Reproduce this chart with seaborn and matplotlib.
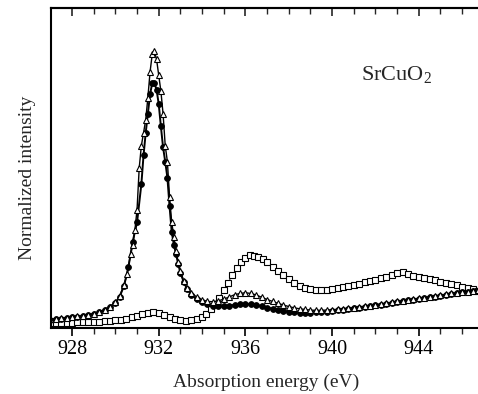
import numpy as np
import pandas as pd
import seaborn as sns
import matplotlib.pyplot as plt
from matplotlib.ticker import MultipleLocator

# values (normalized intensity, axis height = 1)
tri_x = [927.0, 927.25, 927.5, 927.75, 928.0, 928.25, 928.5, 928.75, 929.0, 929.25,
         929.5, 929.75, 930.0, 930.2, 930.4, 930.55, 930.7, 930.8, 930.9, 931.0,
         931.1, 931.2, 931.3, 931.4, 931.5, 931.6, 931.7, 931.8, 931.9, 932.0,
         932.1, 932.2, 932.3, 932.4, 932.5, 932.6, 932.7, 932.8, 932.9, 933.0,
         933.15, 933.3, 933.5, 933.75, 934.0, 934.25, 934.5, 934.75, 935.0, 935.25,
         935.5, 935.75, 936.0, 936.25, 936.5, 936.75, 937.0, 937.25, 937.5, 937.75,
         938.0, 938.25, 938.5, 938.75, 939.0, 939.25, 939.5, 939.75, 940.0, 940.25,
         940.5, 940.75, 941.0, 941.25, 941.5, 941.75, 942.0, 942.25, 942.5, 942.75,
         943.0, 943.25, 943.5, 943.75, 944.0, 944.25, 944.5, 944.75, 945.0, 945.25,
         945.5, 945.75, 946.0, 946.25, 946.5, 946.75]
tri_y = [0.028, 0.029, 0.030, 0.032, 0.034, 0.036, 0.038, 0.041, 0.045, 0.050,
         0.057, 0.066, 0.080, 0.100, 0.135, 0.170, 0.230, 0.260, 0.305, 0.370,
         0.500, 0.570, 0.610, 0.650, 0.720, 0.800, 0.855, 0.865, 0.840, 0.790,
         0.740, 0.670, 0.570, 0.520, 0.410, 0.330, 0.285, 0.240, 0.205, 0.178,
         0.148, 0.126, 0.110, 0.097, 0.088, 0.083, 0.082, 0.085, 0.090, 0.097,
         0.104, 0.108, 0.110, 0.108, 0.103, 0.096, 0.089, 0.083, 0.077, 0.072,
         0.067, 0.063, 0.060, 0.058, 0.056, 0.055, 0.055, 0.056, 0.057, 0.058,
         0.060, 0.062, 0.064, 0.066, 0.068, 0.070, 0.073, 0.075, 0.078, 0.080,
         0.083, 0.085, 0.088, 0.090, 0.093, 0.095, 0.098, 0.100, 0.103, 0.105,
         0.108, 0.110, 0.112, 0.114, 0.116, 0.118]

circ_x = [927.0, 927.25, 927.5, 927.75, 928.0, 928.25, 928.5, 928.75, 929.0, 929.25,
          929.5, 929.75, 930.0, 930.2, 930.4, 930.6, 930.8, 931.0, 931.2, 931.3,
          931.4, 931.5, 931.6, 931.7, 931.8, 931.9, 932.0, 932.1, 932.2, 932.3,
          932.4, 932.5, 932.6, 932.7, 932.8, 932.9, 933.0, 933.15, 933.3, 933.5,
          933.75, 934.0, 934.25, 934.5, 934.75, 935.0, 935.25, 935.5, 935.75, 936.0,
          936.25, 936.5, 936.75, 937.0, 937.25, 937.5, 937.75, 938.0, 938.25, 938.5,
          938.75, 939.0, 939.25, 939.5, 939.75, 940.0, 940.25, 940.5, 940.75, 941.0,
          941.25, 941.5, 941.75, 942.0, 942.25, 942.5, 942.75, 943.0, 943.25, 943.5,
          943.75, 944.0, 944.25, 944.5, 944.75, 945.0, 945.25, 945.5, 945.75, 946.0,
          946.25, 946.5, 946.75]
circ_y = [0.026, 0.027, 0.029, 0.031, 0.033, 0.035, 0.037, 0.040, 0.044, 0.049,
          0.056, 0.065, 0.078, 0.098, 0.132, 0.190, 0.270, 0.330, 0.450, 0.540,
          0.610, 0.670, 0.730, 0.765, 0.765, 0.745, 0.700, 0.630, 0.565, 0.520,
          0.470, 0.380, 0.300, 0.260, 0.230, 0.200, 0.172, 0.145, 0.123, 0.104,
          0.090, 0.080, 0.074, 0.070, 0.068, 0.068, 0.070, 0.072, 0.074, 0.075,
          0.074, 0.072, 0.068, 0.064, 0.060, 0.057, 0.054, 0.051, 0.049, 0.048,
          0.048, 0.048, 0.049, 0.050, 0.051, 0.053, 0.055, 0.057, 0.059, 0.061,
          0.063, 0.066, 0.068, 0.071, 0.073, 0.076, 0.078, 0.081, 0.083, 0.086,
          0.088, 0.091, 0.093, 0.096, 0.098, 0.101, 0.103, 0.106, 0.108, 0.111,
          0.113, 0.115, 0.117]

sq_x = [927.0, 927.25, 927.5, 927.75, 928.0, 928.25, 928.5, 928.75, 929.0, 929.25,
        929.5, 929.75, 930.0, 930.25, 930.5, 930.75, 931.0, 931.25, 931.5, 931.75,
        932.0, 932.25, 932.5, 932.75, 933.0, 933.25, 933.5, 933.75, 934.0, 934.2,
        934.4, 934.6, 934.8, 935.0, 935.2, 935.4, 935.6, 935.8, 936.0, 936.2,
        936.4, 936.6, 936.8, 937.0, 937.25, 937.5, 937.75, 938.0, 938.25, 938.5,
        938.75, 939.0, 939.25, 939.5, 939.75, 940.0, 940.25, 940.5, 940.75, 941.0,
        941.25, 941.5, 941.75, 942.0, 942.25, 942.5, 942.75, 943.0, 943.25, 943.5,
        943.75, 944.0, 944.25, 944.5, 944.75, 945.0, 945.25, 945.5, 945.75, 946.0,
        946.25, 946.5, 946.75]
sq_y = [0.016, 0.016, 0.016, 0.017, 0.017, 0.018, 0.018, 0.019, 0.019, 0.020,
        0.021, 0.022, 0.024, 0.026, 0.029, 0.033, 0.038, 0.043, 0.047, 0.049,
        0.047, 0.042, 0.035, 0.029, 0.025, 0.023, 0.024, 0.028, 0.035, 0.045,
        0.058, 0.074, 0.094, 0.118, 0.142, 0.165, 0.188, 0.207, 0.220, 0.227,
        0.226, 0.222, 0.215, 0.205, 0.192, 0.178, 0.165, 0.152, 0.141, 0.132,
        0.126, 0.122, 0.120, 0.119, 0.120, 0.122, 0.124, 0.127, 0.131, 0.135,
        0.139, 0.143, 0.147, 0.151, 0.155, 0.160, 0.166, 0.171, 0.175, 0.170,
        0.164, 0.160, 0.157, 0.153, 0.149, 0.145, 0.141, 0.137, 0.133, 0.129,
        0.125, 0.121, 0.117]

sns.set_style('ticks')
plt.rcParams['font.family'] = ['Liberation Serif', 'DejaVu Serif']
plt.rcParams['mathtext.fontset'] = 'custom'
plt.rcParams['mathtext.rm'] = 'Liberation Serif'

fig = plt.figure(figsize=(4.78, 3.94), dpi=100)
ax = fig.add_axes([51 / 478, 66 / 394, 430 / 478, 320 / 394])

# open squares (thin line)
sns.lineplot(x=sq_x, y=sq_y, ax=ax, sort=False, color='black', linewidth=0.6,
             marker='s', markersize=4.5, markerfacecolor='white',
             markeredgecolor='black', markeredgewidth=0.8)
# filled circles
sns.lineplot(x=circ_x, y=circ_y, ax=ax, sort=False, color='black', linewidth=1.4,
             marker='o', markersize=4.2, markerfacecolor='black',
             markeredgecolor='black', markeredgewidth=0.6)
# open triangles
sns.lineplot(x=tri_x, y=tri_y, ax=ax, sort=False, color='black', linewidth=1.0,
             marker='^', markersize=5, markerfacecolor='white',
             markeredgecolor='black', markeredgewidth=0.8)

ax.set_xlim(927.03, 946.87)
ax.set_ylim(0, 1)
ax.set_yticks([])

ax.xaxis.set_major_locator(MultipleLocator(4))
ax.xaxis.set_minor_locator(MultipleLocator(1))
ax.tick_params(axis='x', which='major', direction='out', length=6, width=1.2,
               labelsize=14.5, pad=3, colors='black')
ax.tick_params(axis='x', which='minor', direction='out', length=4, width=1.0)

top = ax.secondary_xaxis('top')
top.xaxis.set_major_locator(MultipleLocator(4))
top.xaxis.set_minor_locator(MultipleLocator(1))
top.tick_params(which='major', direction='in', length=6, width=1.2, labeltop=False)
top.tick_params(which='minor', direction='in', length=4, width=1.0)
top.spines['top'].set_linewidth(1.5)

for side in ['left', 'bottom', 'top']:
    ax.spines[side].set_linewidth(1.5)
    ax.spines[side].set_color('black')
ax.spines['right'].set_visible(False)

ax.set_xlabel('Absorption energy (eV)', fontsize=14, labelpad=10)
ax.set_ylabel('Normalized intensity', fontsize=14)
ax.yaxis.set_label_coords(-0.034, 0.47)

ax.text(0.722, 0.775, 'SrCuO$_2$', transform=ax.transAxes, fontsize=16)

fig.savefig('out.png', dpi=100)
